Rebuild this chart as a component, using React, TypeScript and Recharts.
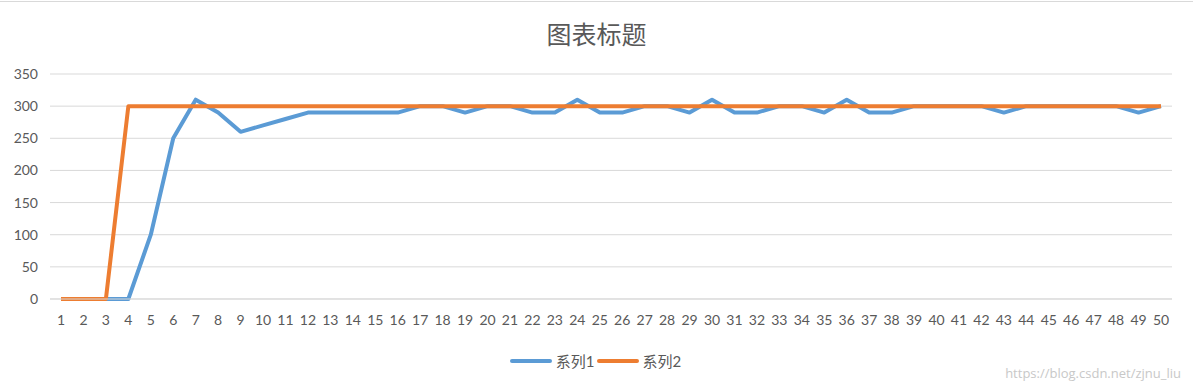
import React from 'react';
import { LineChart, Line, XAxis, YAxis, CartesianGrid } from 'recharts';

const categories: number[] = Array.from({ length: 50 }, (_, i) => i + 1);

const series1: number[] = [
  0, 0, 0, 0, 100, 250, 310, 290, 260, 270,
  280, 290, 290, 290, 290, 290, 300, 300, 290, 300,
  300, 290, 290, 310, 290, 290, 300, 300, 290, 310,
  290, 290, 300, 300, 290, 310, 290, 290, 300, 300,
  300, 300, 290, 300, 300, 300, 300, 300, 290, 300,
];

const series2: number[] = [
  0, 0, 0, 300, 300, 300, 300, 300, 300, 300,
  300, 300, 300, 300, 300, 300, 300, 300, 300, 300,
  300, 300, 300, 300, 300, 300, 300, 300, 300, 300,
  300, 300, 300, 300, 300, 300, 300, 300, 300, 300,
  300, 300, 300, 300, 300, 300, 300, 300, 300, 300,
];

const yTicks: number[] = [0, 50, 100, 150, 200, 250, 300, 350];

const seriesNames = ['系列1', '系列2'];
const colors = ['#5B9BD5', '#ED7D31'];

const data = categories.map((c, i) => ({ name: String(c), s1: series1[i], s2: series2[i] }));

const font = 'Lato, "Noto Sans CJK SC", sans-serif';

export default function App() {
  return (
    <div style={{ position: 'absolute', left: 0, top: 0, width: 1193, height: 388, background: '#fff', fontFamily: font }}>
      <div style={{ position: 'absolute', left: 0, top: 1, width: 1193, height: 0, borderTop: '1px solid #d9d9d9' }} />
      <div style={{ position: 'absolute', left: 0, top: 15, width: 1193, textAlign: 'center', fontSize: 25, color: '#595959', fontFamily: '"Noto Sans CJK SC", sans-serif' }}>
        图表标题
      </div>
      <LineChart width={1193} height={388} data={data} margin={{ top: 74, right: 21, bottom: 59, left: 0 }}>
        <CartesianGrid vertical={false} stroke="#D9D9D9" strokeWidth={1} />
        <XAxis
          dataKey="name"
          interval={0}
          tickLine={false}
          axisLine={{ stroke: '#D9D9D9' }}
          tickMargin={10}
          height={30}
          padding={{ left: 11, right: 11 }}
          tick={{ fill: '#595959', fontSize: 14, fontFamily: font }}
        />
        <YAxis
          width={50}
          domain={[0, 350]}
          ticks={yTicks}
          interval={0}
          axisLine={false}
          tickLine={false}
          tickMargin={6}
          tick={{ fill: '#595959', fontSize: 14, fontFamily: font }}
        />
        <Line type="linear" dataKey="s1" name={seriesNames[0]} stroke={colors[0]} strokeWidth={4} dot={false} isAnimationActive={false} strokeLinejoin="round" />
        <Line type="linear" dataKey="s2" name={seriesNames[1]} stroke={colors[1]} strokeWidth={4} dot={false} isAnimationActive={false} strokeLinejoin="round" />
      </LineChart>
      <div style={{ position: 'absolute', left: 0, top: 350, width: 1193, display: 'flex', justifyContent: 'center', alignItems: 'center', fontSize: 15, color: '#595959', fontFamily: font }}>
        {seriesNames.map((n, i) => (
          <div key={n} style={{ display: 'flex', alignItems: 'center' }}>
            <span style={{ display: 'inline-block', width: 42, height: 4, borderRadius: 2, background: colors[i], marginRight: 4 }} />
            <span style={{ marginRight: 2 }}>{n}</span>
          </div>
        ))}
      </div>
      <div style={{ position: 'absolute', right: 12, top: 364, fontSize: 13, color: '#c8c8c8', fontFamily: '"Open Sans", sans-serif' }}>
        https://blog.csdn.net/zjnu_liu
      </div>
    </div>
  );
}
